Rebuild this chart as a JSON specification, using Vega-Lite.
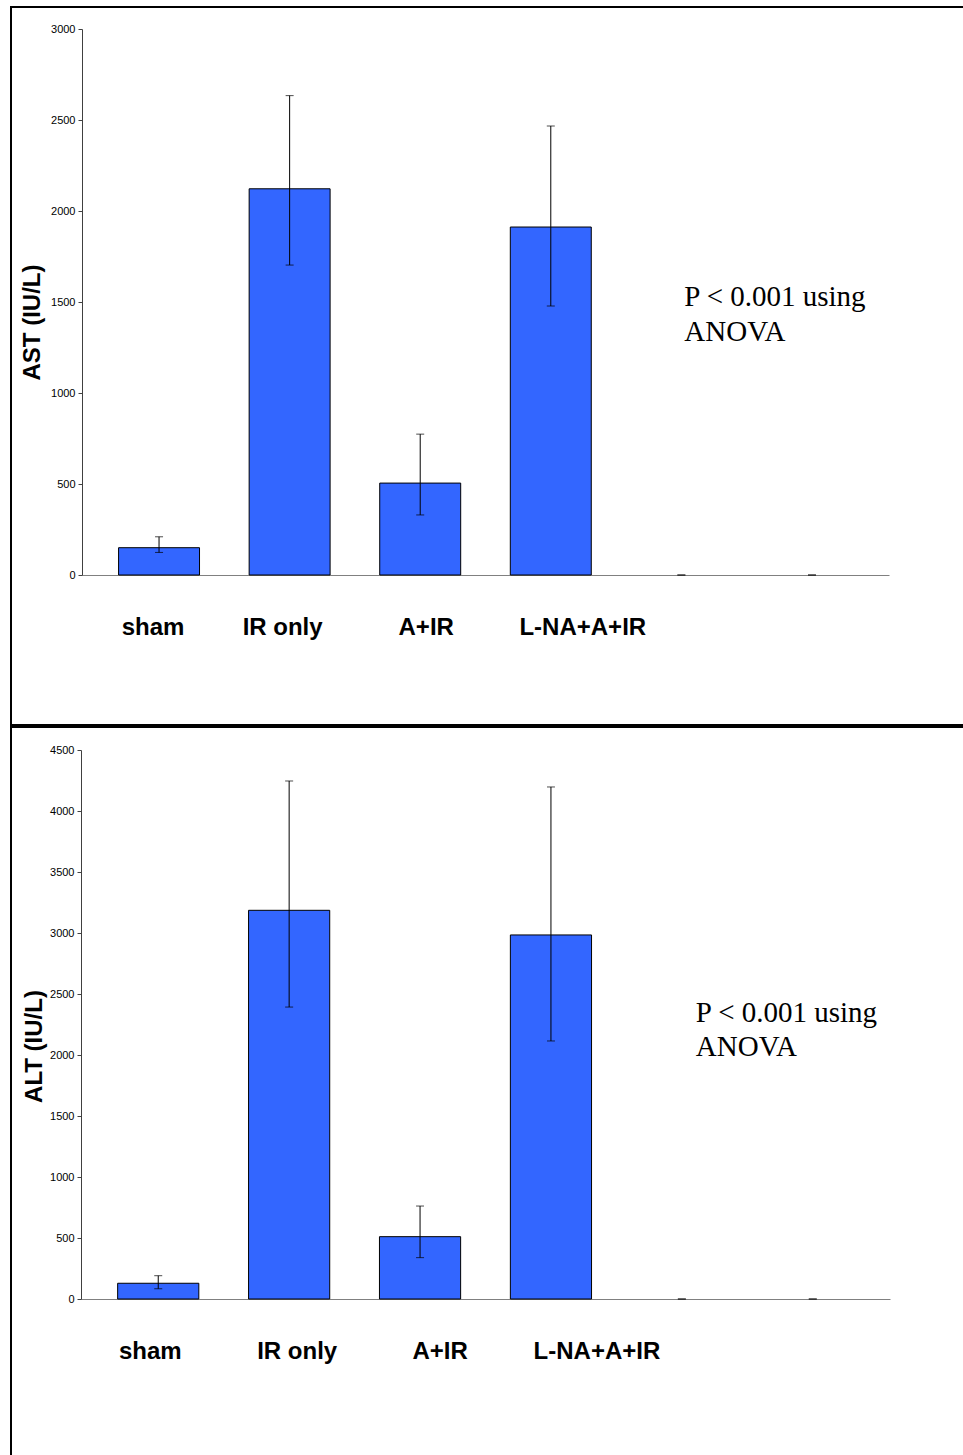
{
  "$schema": "https://vega.github.io/schema/vega-lite/v6.json",
  "padding": {"left": 10, "top": 6, "right": 0, "bottom": 0},
  "spacing": 0,
  "background": "white",
  "config": {
    "view": {"stroke": "black", "strokeWidth": 2},
    "font": "Liberation Sans"
  },
  "datasets": {
    "ast": [
      {"g": "sham", "v": 150, "lo": 124, "hi": 210},
      {"g": "IR only", "v": 2122, "lo": 1703, "hi": 2634},
      {"g": "A+IR", "v": 505, "lo": 330, "hi": 774},
      {"g": "L-NA+A+IR", "v": 1912, "lo": 1478, "hi": 2467},
      {"g": "e1", "v": 0, "lo": 0, "hi": 0},
      {"g": "e2", "v": 0, "lo": 0, "hi": 0}
    ],
    "alt": [
      {"g": "sham", "v": 129, "lo": 84, "hi": 191},
      {"g": "IR only", "v": 3186, "lo": 2393, "hi": 4246},
      {"g": "A+IR", "v": 511, "lo": 339, "hi": 762},
      {"g": "L-NA+A+IR", "v": 2984, "lo": 2115, "hi": 4197},
      {"g": "e1", "v": 0, "lo": 0, "hi": 0},
      {"g": "e2", "v": 0, "lo": 0, "hi": 0}
    ],
    "noteTop": [{"g": "e1", "y": 1480, "t": "P < 0.001 using\nANOVA"}],
    "noteBottom": [{"g": "e1", "y": 2270, "t": "P < 0.001 using\nANOVA"}]
  },
  "vconcat": [
    {
      "width": 960,
      "height": 718,
      "data": {"name": "ast"},
      "encoding": {
        "x": {
          "field": "g", "type": "nominal", "sort": null,
          "scale": {"domain": ["sham", "IR only", "A+IR", "L-NA+A+IR", "e1", "e2"], "range": [71, 878], "paddingInner": 0.38, "paddingOuter": 0.28},
          "axis": {
            "orient": "bottom", "offset": -150, "title": null,
            "domainColor": "#808080", "domainWidth": 1, "ticks": false,
            "labelAngle": 0, "labelFont": "Liberation Sans", "labelFontSize": 24, "labelFontWeight": "bold", "labelColor": "#000000",
            "labelBaseline": "alphabetic", "labelPadding": 59,
            "labelExpr": "(datum.value == 'e1' || datum.value == 'e2') ? '' : datum.value",
            "labelOffset": {"expr": "datum.value == 'sham' ? -6 : datum.value == 'IR only' ? -7 : datum.value == 'A+IR' ? 6 : datum.value == 'L-NA+A+IR' ? 32 : 0"}
          }
        }
      },
      "layer": [
        {
          "transform": [{"filter": "datum.v > 0"}],
          "mark": {"type": "bar", "fill": "#3366FF", "stroke": "#000000", "strokeWidth": 1},
          "encoding": {
            "y": {
              "field": "v", "type": "quantitative",
              "scale": {"domain": [0, 3000], "range": [568, 22], "nice": false, "zero": true},
              "axis": {
                "orient": "left", "offset": -71, "grid": false, "format": "d",
                "values": [0, 500, 1000, 1500, 2000, 2500, 3000],
                "domainColor": "#404040", "tickColor": "#404040", "tickSize": 4,
                "labelFont": "Liberation Sans", "labelFontSize": 11, "labelColor": "#000000", "labelPadding": 3,
                "title": "AST (IU/L)", "titleFont": "Liberation Sans", "titleFontSize": 24, "titleFontWeight": "bold", "titleColor": "#000000",
                "titleAngle": -90, "titleX": -50, "titleY": 315, "titleAlign": "center", "titleBaseline": "middle"
              }
            }
          }
        },
        {
          "mark": {"type": "rule", "color": "#000000", "strokeWidth": 1},
          "encoding": {"y": {"field": "lo", "type": "quantitative"}, "y2": {"field": "hi"}}
        },
        {
          "mark": {"type": "tick", "color": "#000000", "size": 8, "thickness": 1, "orient": "horizontal"},
          "encoding": {"y": {"field": "hi", "type": "quantitative"}}
        },
        {
          "mark": {"type": "tick", "color": "#000000", "size": 8, "thickness": 1, "orient": "horizontal"},
          "encoding": {"y": {"field": "lo", "type": "quantitative"}}
        },
        {
          "data": {"name": "noteTop"},
          "mark": {"type": "text", "font": "Liberation Serif", "fontSize": 29, "align": "left", "baseline": "alphabetic", "lineBreak": "\n", "lineHeight": 35, "dx": 3, "color": "#000000"},
          "encoding": {"y": {"field": "y", "type": "quantitative"}, "text": {"field": "t"}}
        }
      ]
    },
    {
      "width": 960,
      "height": 740,
      "data": {"name": "alt"},
      "encoding": {
        "x": {
          "field": "g", "type": "nominal", "sort": null,
          "scale": {"domain": ["sham", "IR only", "A+IR", "L-NA+A+IR", "e1", "e2"], "range": [70, 879], "paddingInner": 0.38, "paddingOuter": 0.28},
          "axis": {
            "orient": "bottom", "offset": -168, "title": null,
            "domainColor": "#808080", "domainWidth": 1, "ticks": false,
            "labelAngle": 0, "labelFont": "Liberation Sans", "labelFontSize": 24, "labelFontWeight": "bold", "labelColor": "#000000",
            "labelBaseline": "alphabetic", "labelPadding": 59,
            "labelExpr": "(datum.value == 'e1' || datum.value == 'e2') ? '' : datum.value",
            "labelOffset": {"expr": "datum.value == 'sham' ? -8 : datum.value == 'IR only' ? 8 : datum.value == 'A+IR' ? 20 : datum.value == 'L-NA+A+IR' ? 46 : 0"}
          }
        }
      },
      "layer": [
        {
          "transform": [{"filter": "datum.v > 0"}],
          "mark": {"type": "bar", "fill": "#3366FF", "stroke": "#000000", "strokeWidth": 1},
          "encoding": {
            "y": {
              "field": "v", "type": "quantitative",
              "scale": {"domain": [0, 4500], "range": [572, 23], "nice": false, "zero": true},
              "axis": {
                "orient": "left", "offset": -70, "grid": false, "format": "d",
                "values": [0, 500, 1000, 1500, 2000, 2500, 3000, 3500, 4000, 4500],
                "domainColor": "#404040", "tickColor": "#404040", "tickSize": 4,
                "labelFont": "Liberation Sans", "labelFontSize": 11, "labelColor": "#000000", "labelPadding": 3,
                "title": "ALT (IU/L)", "titleFont": "Liberation Sans", "titleFontSize": 24, "titleFontWeight": "bold", "titleColor": "#000000",
                "titleAngle": -90, "titleX": -47, "titleY": 319, "titleAlign": "center", "titleBaseline": "middle"
              }
            }
          }
        },
        {
          "mark": {"type": "rule", "color": "#000000", "strokeWidth": 1},
          "encoding": {"y": {"field": "lo", "type": "quantitative"}, "y2": {"field": "hi"}}
        },
        {
          "mark": {"type": "tick", "color": "#000000", "size": 8, "thickness": 1, "orient": "horizontal"},
          "encoding": {"y": {"field": "hi", "type": "quantitative"}}
        },
        {
          "mark": {"type": "tick", "color": "#000000", "size": 8, "thickness": 1, "orient": "horizontal"},
          "encoding": {"y": {"field": "lo", "type": "quantitative"}}
        },
        {
          "data": {"name": "noteBottom"},
          "mark": {"type": "text", "font": "Liberation Serif", "fontSize": 29, "align": "left", "baseline": "alphabetic", "lineBreak": "\n", "lineHeight": 34, "dx": 14, "color": "#000000"},
          "encoding": {"y": {"field": "y", "type": "quantitative"}, "text": {"field": "t"}}
        }
      ]
    }
  ]
}
